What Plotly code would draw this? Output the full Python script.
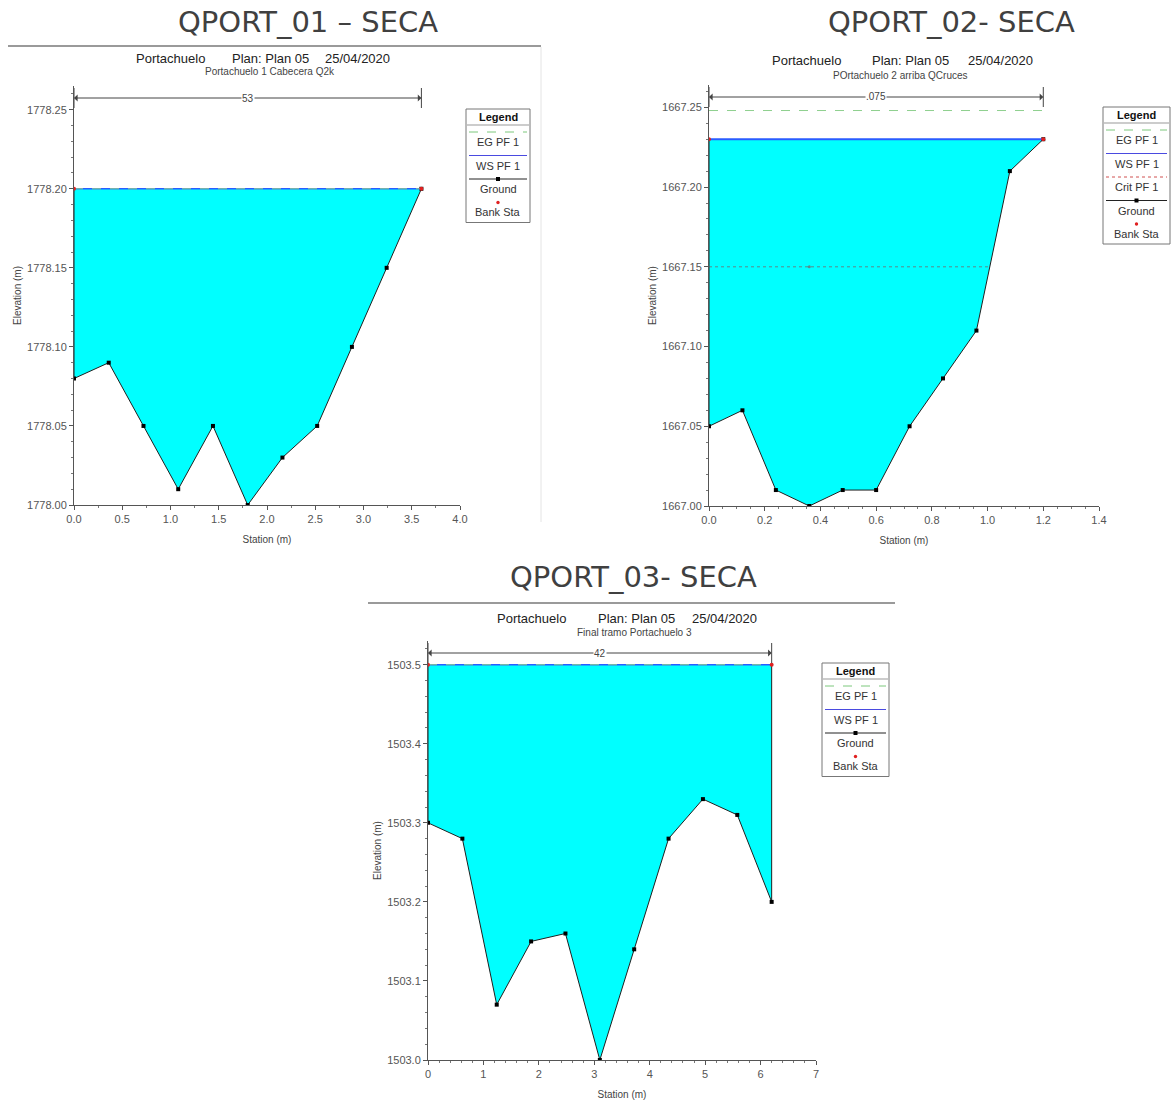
import plotly.graph_objects as go
import numpy as np

# ---------------- data ----------------
titles = ["QPORT_01 – SECA", "QPORT_02- SECA", "QPORT_03- SECA"]
subtitle_river = "Portachuelo"
subtitle_plan = "Plan: Plan 05"
subtitle_date = "25/04/2020"
reach_names = ["Portachuelo 1 Cabecera Q2k", "POrtachuelo 2 arriba QCruces", "Final tramo Portachuelo 3"]

sta1 = [0.0, 0.36, 0.72, 1.08, 1.44, 1.80, 2.16, 2.52, 2.88, 3.24, 3.60]
elev1 = [1778.08, 1778.09, 1778.05, 1778.01, 1778.05, 1778.00, 1778.03, 1778.05, 1778.10, 1778.15, 1778.20]
ws1 = 1778.20
eg1 = 1778.20
bank_sta1 = [0.0, 3.60]
bank_el1 = [1778.20, 1778.20]
dim_label1 = "53"

sta2 = [0.0, 0.12, 0.24, 0.36, 0.48, 0.60, 0.72, 0.84, 0.96, 1.08, 1.20]
elev2 = [1667.05, 1667.06, 1667.01, 1667.00, 1667.01, 1667.01, 1667.05, 1667.08, 1667.11, 1667.21, 1667.23]
ws2 = 1667.23
eg2 = 1667.248
crit2 = 1667.15
bank_sta2 = [0.0, 1.20]
bank_el2 = [1667.23, 1667.23]
dim_label2 = ".075"

sta3 = [0.0, 0.62, 1.24, 1.86, 2.48, 3.10, 3.72, 4.34, 4.96, 5.58, 6.20]
elev3 = [1503.30, 1503.28, 1503.07, 1503.15, 1503.16, 1503.00, 1503.14, 1503.28, 1503.33, 1503.31, 1503.20]
ws3 = 1503.50
eg3 = 1503.50
bank_sta3 = [0.0, 6.20]
bank_el3 = [1503.50, 1503.50]
dim_label3 = "42"

x_ticks1 = dict(range=[0, 4.0], dtick=0.5, fmt=".1f", minor=0.25)
y_ticks1 = dict(range=[1778.0, 1778.265], dtick=0.05, fmt=".2f", minor=0.01)
x_ticks2 = dict(range=[0, 1.4], dtick=0.2, fmt=".1f", minor=0.05)
y_ticks2 = dict(range=[1667.0, 1667.264], dtick=0.05, fmt=".2f", minor=0.01)
x_ticks3 = dict(range=[0, 7], dtick=1, fmt="d", minor=0.2)
y_ticks3 = dict(range=[1503.0, 1503.53], dtick=0.1, fmt=".1f", minor=0.02)

# ---------------- layout helpers ----------------
W, H = 1174, 1104
def PX(x):
    return x / W
def PY(y):
    return 1 - y / H

ARIAL = "Liberation Sans, Arial, sans-serif"
HEAD = "DejaVu Sans, Verdana, sans-serif"

fig = go.Figure()
shapes = []
annots = []

charts = [
    dict(sta=sta1, elev=elev1, ws=ws1, eg=eg1, crit=None, bsta=bank_sta1, bel=bank_el1, dim=dim_label1,
         xt=x_ticks1, yt=y_ticks1, xdom=(74, 460), ydom=(86, 505), xa="x", ya="y"),
    dict(sta=sta2, elev=elev2, ws=ws2, eg=eg2, crit=crit2, bsta=bank_sta2, bel=bank_el2, dim=dim_label2,
         xt=x_ticks2, yt=y_ticks2, xdom=(709, 1099), ydom=(85, 506), xa="x2", ya="y2"),
    dict(sta=sta3, elev=elev3, ws=ws3, eg=eg3, crit=None, bsta=bank_sta3, bel=bank_el3, dim=dim_label3,
         xt=x_ticks3, yt=y_ticks3, xdom=(428, 816), ydom=(641, 1060), xa="x3", ya="y3"),
]

for i, c in enumerate(charts):
    xa, ya = c["xa"], c["ya"]
    sta, elev = c["sta"], c["elev"]
    poly_x = [sta[0]] + list(sta) + [sta[-1]]
    poly_y = [c["ws"]] + list(elev) + [c["ws"]]
    # water fill
    fig.add_trace(go.Scatter(x=poly_x, y=poly_y, fill="toself", fillcolor="#00FFFF",
                             mode="lines", line=dict(color="rgba(0,0,0,0)", width=0),
                             xaxis=xa, yaxis=ya, hoverinfo="skip", showlegend=False))
    # ground line incl. walls
    fig.add_trace(go.Scatter(x=poly_x, y=poly_y, mode="lines", line=dict(color="#202020", width=1),
                             xaxis=xa, yaxis=ya, showlegend=False))
    fig.add_trace(go.Scatter(x=sta, y=elev, mode="markers",
                             marker=dict(symbol="square", size=4, color="black"),
                             xaxis=xa, yaxis=ya, showlegend=False))
    # critical
    if c["crit"] is not None:
        s = np.array(sta); e = np.array(elev)
        imin = int(np.argmin(e))
        right_x = float(np.interp(c["crit"], e[imin:], s[imin:]))
        fig.add_trace(go.Scatter(x=[sta[0], right_x], y=[c["crit"], c["crit"]], mode="lines",
                                 line=dict(color="rgba(150,60,60,0.6)", width=1, dash="dot"),
                                 xaxis=xa, yaxis=ya, showlegend=False))
        fig.add_trace(go.Scatter(x=[s[imin]], y=[c["crit"]], mode="markers",
                                 marker=dict(size=3, color="rgba(150,60,60,0.6)"),
                                 xaxis=xa, yaxis=ya, showlegend=False))
    # water surface
    fig.add_trace(go.Scatter(x=[sta[0], sta[-1]], y=[c["ws"], c["ws"]], mode="lines",
                             line=dict(color="#2a5cff", width=2 if i == 1 else 1.5),
                             xaxis=xa, yaxis=ya, showlegend=False))
    # energy grade
    fig.add_trace(go.Scatter(x=[sta[0], sta[-1]], y=[c["eg"], c["eg"]], mode="lines",
                             line=dict(color="#8fd08f", width=1, dash="dash"),
                             xaxis=xa, yaxis=ya, showlegend=False))
    # bank stations
    fig.add_trace(go.Scatter(x=c["bsta"], y=c["bel"], mode="markers",
                             marker=dict(size=4, color="#e02020"),
                             xaxis=xa, yaxis=ya, showlegend=False))

    # axes
    xt, yt = c["xt"], c["yt"]
    xkey = "xaxis" if xa == "x" else "xaxis" + xa[1:]
    ykey = "yaxis" if ya == "y" else "yaxis" + ya[1:]
    common = dict(showline=True, linecolor="#555", linewidth=1, ticks="outside", ticklen=4,
                  tickcolor="#555", tickwidth=1, showgrid=False, zeroline=False,
                  tickfont=dict(family=ARIAL, size=11, color="#555"), automargin=False,
                  fixedrange=True)
    fig.update_layout({
        xkey: dict(common, domain=[PX(c["xdom"][0]), PX(c["xdom"][1])], range=xt["range"],
                   dtick=xt["dtick"], tick0=0, tickformat=xt["fmt"], anchor=ya,
                   minor=dict(dtick=xt["minor"], tick0=0, ticks="outside", ticklen=2, tickcolor="#777"),
                   title=dict(text="Station (m)", font=dict(family=ARIAL, size=10, color="#444"), standoff=11)),
        ykey: dict(common, domain=[PY(c["ydom"][1]), PY(c["ydom"][0])], range=yt["range"],
                   dtick=yt["dtick"], tick0=yt["range"][0], tickformat=yt["fmt"], anchor=xa,
                   minor=dict(dtick=yt["minor"], tick0=yt["range"][0], ticks="outside", ticklen=2, tickcolor="#777"),
                   title=dict(text="Elevation (m)", font=dict(family=ARIAL, size=10, color="#444"), standoff=3)),
    })

    # dimension arrow (top width)
    yr = yt["range"]
    ppu = (c["ydom"][1] - c["ydom"][0]) / (yr[1] - yr[0])
    arrow_y = yr[1] - 12 / ppu
    mid = (sta[0] + sta[-1]) / 2
    for end in (sta[0], sta[-1]):
        annots.append(dict(x=end, y=arrow_y, xref=xa, yref=ya, ax=mid, ay=arrow_y, axref=xa, ayref=ya,
                           text="", showarrow=True, arrowhead=1, arrowsize=1.2, arrowwidth=1,
                           arrowcolor="#444"))
        shapes.append(dict(type="line", xref=xa, yref=ya, x0=end, x1=end,
                           y0=arrow_y - 10 / ppu, y1=arrow_y + 10 / ppu,
                           line=dict(color="#444", width=1)))
    annots.append(dict(x=mid, y=arrow_y, xref=xa, yref=ya, text=c["dim"], showarrow=False,
                       font=dict(family=ARIAL, size=10, color="#444"), bgcolor="white",
                       borderpad=0))

# headings
head_pos = [(308, 22), (951, 22), (633, 577)]
for t, (hx, hy) in zip(titles, head_pos):
    annots.append(dict(x=PX(hx), y=PY(hy), xref="paper", yref="paper", text=t, showarrow=False,
                       xanchor="center", yanchor="middle",
                       font=dict(family=HEAD, size=29, color="#404040")))

# separator lines
shapes.append(dict(type="line", xref="paper", yref="paper", x0=PX(8), x1=PX(541), y0=PY(46), y1=PY(46),
                   line=dict(color="#9a9a9a", width=2)))
shapes.append(dict(type="line", xref="paper", yref="paper", x0=PX(541), x1=PX(541), y0=PY(47), y1=PY(522),
                   line=dict(color="#e4e4e4", width=1)))
shapes.append(dict(type="line", xref="paper", yref="paper", x0=PX(368), x1=PX(895), y0=PY(603), y1=PY(603),
                   line=dict(color="#9a9a9a", width=2)))

# plot sub-titles
sub_pos = [
    ((170, 270, 357), 59, 270, 72),
    ((806, 910, 1000), 60, 900, 75),
    ((531, 636, 724), 618, 634, 632),
]
for i, ((px1, px2, px3), y1, cx, y2) in enumerate(sub_pos):
    for txt, xx in ((subtitle_river, px1), (subtitle_plan, px2), (subtitle_date, px3)):
        annots.append(dict(x=PX(xx), y=PY(y1), xref="paper", yref="paper", text=txt, showarrow=False,
                           xanchor="center", yanchor="middle",
                           font=dict(family=ARIAL, size=13, color="#222")))
    annots.append(dict(x=PX(cx), y=PY(y2), xref="paper", yref="paper", text=reach_names[i],
                       showarrow=False, xanchor="center", yanchor="middle",
                       font=dict(family=ARIAL, size=10, color="#444")))

# legend boxes
def legend_box(left, right, top, items):
    pitch = 23.5
    shapes.append(dict(type="line", xref="paper", yref="paper", x0=PX(left + 1), x1=PX(right - 1),
                       y0=PY(top + 16), y1=PY(top + 16), line=dict(color="#999", width=1)))
    annots.append(dict(x=PX((left + right) / 2), y=PY(top + 8), xref="paper", yref="paper",
                       text="<b>Legend</b>", showarrow=False, xanchor="center", yanchor="middle",
                       font=dict(family=ARIAL, size=11, color="#111")))
    cx = (left + right) / 2
    for k, (kind, label) in enumerate(items):
        ly = top + 23 + k * pitch
        if kind == "eg":
            shapes.append(dict(type="line", xref="paper", yref="paper", x0=PX(left + 3), x1=PX(right - 3),
                               y0=PY(ly), y1=PY(ly), line=dict(color="#7cc87c", width=1, dash="dash")))
        elif kind == "ws":
            shapes.append(dict(type="line", xref="paper", yref="paper", x0=PX(left + 3), x1=PX(right - 3),
                               y0=PY(ly), y1=PY(ly), line=dict(color="#4a4ae0", width=1)))
        elif kind == "crit":
            shapes.append(dict(type="line", xref="paper", yref="paper", x0=PX(left + 3), x1=PX(right - 3),
                               y0=PY(ly), y1=PY(ly), line=dict(color="#d05050", width=1, dash="dot")))
        elif kind == "ground":
            shapes.append(dict(type="line", xref="paper", yref="paper", x0=PX(left + 3), x1=PX(right - 3),
                               y0=PY(ly), y1=PY(ly), line=dict(color="#222", width=1)))
            shapes.append(dict(type="rect", xref="paper", yref="paper", x0=PX(cx - 2), x1=PX(cx + 2),
                               y0=PY(ly + 2), y1=PY(ly - 2), fillcolor="black", line=dict(width=0)))
        elif kind == "bank":
            shapes.append(dict(type="circle", xref="paper", yref="paper", x0=PX(cx - 1.7), x1=PX(cx + 1.7),
                               y0=PY(ly + 1.7), y1=PY(ly - 1.7), fillcolor="#e02020", line=dict(width=0)))
        annots.append(dict(x=PX(cx), y=PY(ly + 10), xref="paper", yref="paper", text=label,
                           showarrow=False, xanchor="center", yanchor="middle",
                           font=dict(family=ARIAL, size=11, color="#333")))
    bottom = top + 23 + (len(items) - 1) * pitch + 20
    shapes.append(dict(type="rect", xref="paper", yref="paper", x0=PX(left), x1=PX(right),
                       y0=PY(bottom), y1=PY(top), line=dict(color="#777", width=1)))

legend_box(466, 530, 109, [("eg", "EG PF 1"), ("ws", "WS PF 1"), ("ground", "Ground"), ("bank", "Bank Sta")])
legend_box(1103, 1170, 107, [("eg", "EG PF 1"), ("ws", "WS PF 1"), ("crit", "Crit PF 1"),
                             ("ground", "Ground"), ("bank", "Bank Sta")])
legend_box(822, 889, 663, [("eg", "EG PF 1"), ("ws", "WS PF 1"), ("ground", "Ground"), ("bank", "Bank Sta")])

fig.update_layout(width=W, height=H, margin=dict(l=0, r=0, t=0, b=0, pad=0),
                  paper_bgcolor="white", plot_bgcolor="white", showlegend=False,
                  shapes=shapes, annotations=annots)

fig.write_html("out.html", config={"displayModeBar": False, "staticPlot": True},
               post_script="document.body.style.margin='0';document.body.style.overflow='hidden';")
